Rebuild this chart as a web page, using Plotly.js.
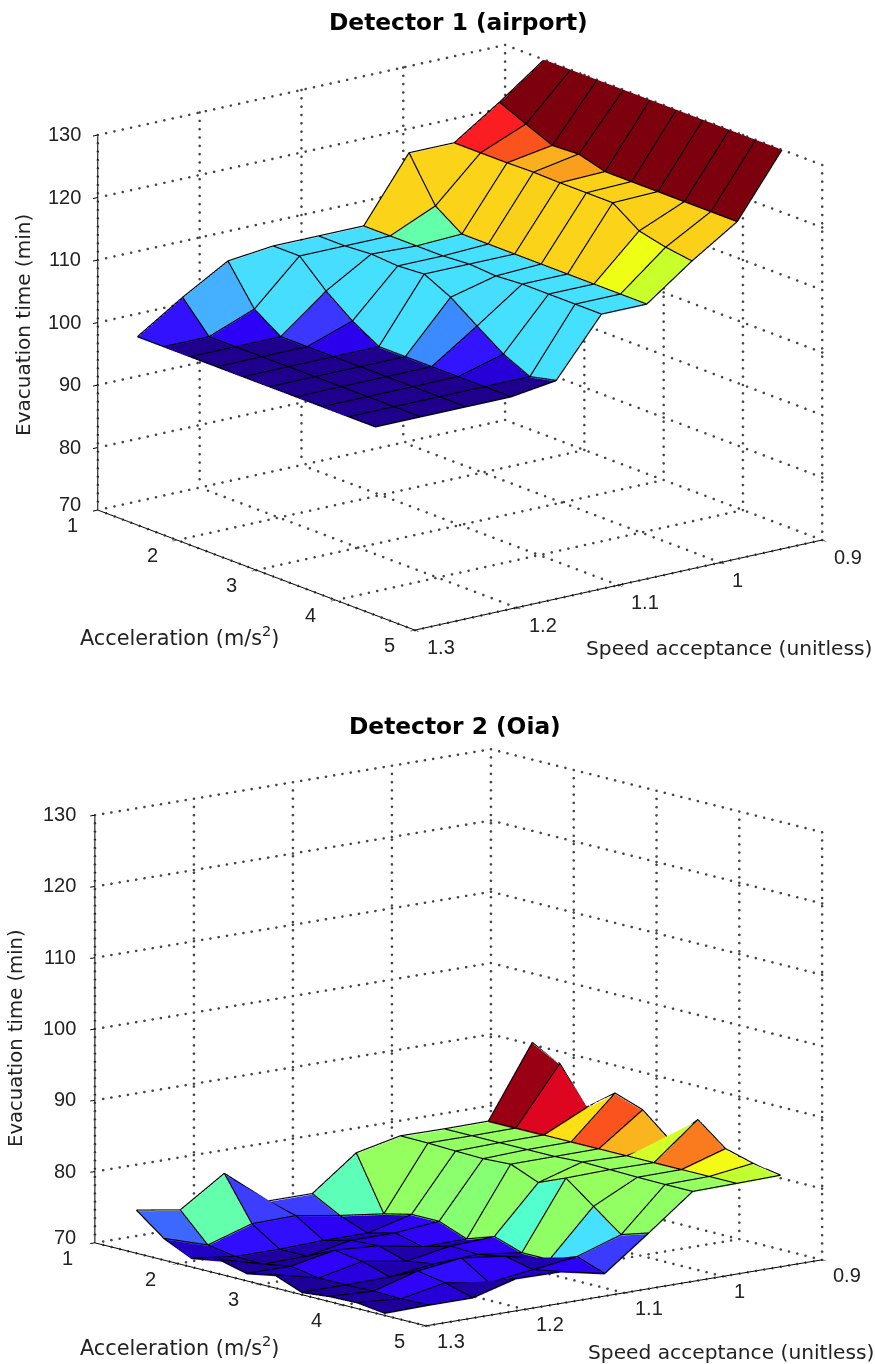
<!DOCTYPE html>
<html><head><meta charset="utf-8">
<script src="https://cdn.plot.ly/plotly-3.0.1.min.js"></script>
<style>html,body{margin:0;padding:0;background:#fff}#c{width:875px;height:1364px}</style>
</head><body><div id="c"></div>
<script>
const accel=[1.5,1.833,2.167,2.5,2.833,3.167,3.5,3.833,4.167,4.5];
const speed=[1.3,1.2556,1.2111,1.1667,1.1222,1.0778,1.0333,0.9889,0.9444,0.9];
const accelTicks=[1,2,3,4,5];
const speedTicks=[0.9,1,1.1,1.2,1.3];
const timeTicks=[70,80,90,100,110,120,130];
const speedLabels=['0.9','1','1.1','1.2','1.3'];
// rows follow speed, columns follow accel
const airport=[
[100,100,100,100,100,100,100,100,100,100],
[104.7,100,100,100,100,100,100,100,100,100],
[108.9,102.8,100,100,100,100,100,100,100,100],
[109.7,109.7,105.7,102.5,100,100,100,100,100,100],
[109.7,109.7,110,109.7,110,107.9,104.9,102,100,101],
[109.7,109.7,109.7,109.7,110,109.7,110,110,110,110],
[119.8,112.9,110,110,110,110,110,110,110,110],
[119.8,119.8,119.8,119.9,119.8,119.8,119.8,116.9,115.9,115.3],
[124.7,122.8,121,121.2,120,120,120,120,120,120],
[130,130,130,130,130,130,130,130,130,130]];
const oia=[
[75.9,72.9,71.1,71.9,70.9,71.7,70.2,70.6,70.7,70.2],
[74.9,70.95,70.3,70.2,70.9,70.2,70.2,70.3,70.2,70.3],
[79,72.9,70.3,70.3,72.1,71.5,70.3,72.1,71.4,70.3],
[74.1,73,70.5,71.5,71.7,70.5,71.1,72.9,70.4,72],
[74.1,72,70.5,71.5,70.5,71.6,71.4,72.1,71.2,71.9],
[78.8,71.2,72.1,72.1,70.6,71.9,70.6,70.6,72,70.6],
[80.15,80.1,79.95,79.85,80.05,78.45,80.05,77.05,74.05,75.25],
[80.1,80.1,80.1,80.1,80.1,80.3,80.2,80.1,80.05,80.05],
[80.15,80.15,80.15,80.15,80.15,80.15,80.15,80.15,80.15,80.15],
[90.17,88.17,83.07,85.97,84.6,81.27,85.17,82.07,80.97,80.27]];
const colorStops=[[0,30,0,140],[.04,32,0,190],[.067,38,0,215],[.09,45,0,245],[.163,50,20,255],[.19,60,55,255],[.27,60,145,255],[.30,70,180,255],[.32,70,220,255],[.335,70,225,255],[.39,75,255,220],[.43,100,255,170],[.48,145,255,100],[.52,190,255,50],[.565,240,255,20],[.62,255,225,20],[.667,250,208,25],[.70,250,175,30],[.72,250,125,30],[.765,250,78,30],[.823,250,30,35],[.874,215,0,30],[1,125,0,15]];
function shade(t){
  t=Math.max(0,Math.min(1,t));
  for(let k=1;k<colorStops.length;k++){
    const a=colorStops[k-1],b=colorStops[k];
    if(t<=b[0]){const f=(t-a[0])/(b[0]-a[0]);
      return 'rgb('+[1,2,3].map(n=>Math.round(a[n]+(b[n]-a[n])*f)).join(',')+')';}
  }
  return 'rgb(125,0,15)';
}
function surfaceTraces(Z,zlo,zhi,scene){
  const X=[],Y=[],V=[],I=[],J=[],K=[],F=[];
  const n=speed.length,m=accel.length,id=(r,c)=>r*m+c;
  for(let r=0;r<n;r++)for(let c=0;c<m;c++){X.push(accel[c]);Y.push(speed[r]);V.push(Z[r][c]);}
  for(let r=0;r<n-1;r++)for(let c=0;c<m-1;c++){
    const col=shade((Z[r+1][c]-zlo)/(zhi-zlo));
    I.push(id(r,c),id(r,c));J.push(id(r+1,c),id(r+1,c+1));K.push(id(r+1,c+1),id(r,c+1));F.push(col,col);
  }
  const mesh={type:'mesh3d',scene,x:X,y:Y,z:V,i:I,j:J,k:K,facecolor:F,flatshading:true,hoverinfo:'skip',showscale:false,
    lighting:{ambient:1,diffuse:0,specular:0,roughness:1,fresnel:0},lightposition:{x:0,y:0,z:1e5}};
  const lx=[],ly=[],lz=[],up=0.15;
  for(let r=0;r<n;r++){for(let c=0;c<m;c++){lx.push(accel[c]);ly.push(speed[r]);lz.push(Z[r][c]+up);}lx.push(null);ly.push(null);lz.push(null);}
  for(let c=0;c<m;c++){for(let r=0;r<n;r++){lx.push(accel[c]);ly.push(speed[r]);lz.push(Z[r][c]+up);}lx.push(null);ly.push(null);lz.push(null);}
  const edges={type:'scatter3d',mode:'lines',scene,x:lx,y:ly,z:lz,line:{color:'#000',width:2.3},hoverinfo:'skip',showlegend:false};
  return [mesh,edges];
}
function gridTrace(scene,nA,nS,nZ){
  const a0=1,a1=5,s0=1.3,s1=0.9,z0=70,z1=130,x=[],y=[],z=[];
  const seg=(p,q,count)=>{for(let k=1;k<=count;k++){const f=k/count;x.push(p[0]+(q[0]-p[0])*f);y.push(p[1]+(q[1]-p[1])*f);z.push(p[2]+(q[2]-p[2])*f);}};
  accelTicks.forEach(a=>{seg([a,s0,z0],[a,s1,z0],nS);seg([a,s1,z0],[a,s1,z1],nZ);});
  speedTicks.forEach(s=>{seg([a0,s,z0],[a1,s,z0],nA);seg([a0,s,z0],[a0,s,z1],nZ);});
  timeTicks.forEach(t=>{seg([a0,s0,t],[a0,s1,t],nS);seg([a0,s1,t],[a1,s1,t],nA);});
  return {type:'scatter3d',mode:'markers',scene,x,y,z,marker:{color:'#444',size:1.5,line:{width:0}},hoverinfo:'skip',showlegend:false};
}
const tickFont={family:'Liberation Sans, Arial, sans-serif',size:20,color:'#222'};
function sceneLayout(domainX,domainY,eye,aspect,aShift,sShift,zShift){
  const ax=(range,tickvals)=>({range,tickmode:'array',tickvals,ticktext:tickvals.map(()=>''),showgrid:false,zeroline:false,showline:true,linecolor:'#000',linewidth:2,ticks:'outside',ticklen:6,tickcolor:'#000',tickwidth:2,showticklabels:false,showbackground:false,showspikes:false,title:{text:''}});
  const ann=[];
  const t=(x,y,z,text,xshift,yshift,xanchor)=>ann.push({x,y,z,text,xshift,yshift,showarrow:false,font:tickFont,xanchor,yanchor:'middle'});
  accelTicks.forEach(a=>t(a,1.3,70,String(a),aShift[0],-aShift[1],'center'));
  speedTicks.forEach((s,i)=>t(5,s,70,speedLabels[i],sShift[0],-sShift[1],'left'));
  timeTicks.forEach(v=>t(1,1.3,v,String(v),zShift,v===70?6:1,'right'));
  return {domain:{x:domainX,y:domainY},aspectmode:'manual',aspectratio:aspect,
    camera:{eye,center:{x:0,y:0,z:0},up:{x:0,y:0,z:1},projection:{type:'orthographic'}},
    xaxis:ax([1,5],accelTicks),yaxis:ax([1.3,0.9],speedTicks),zaxis:ax([70,130],timeTicks),annotations:ann};
}
const W=875,H=1364;
const label=(px,py,text,size,extra)=>Object.assign({xref:'paper',yref:'paper',x:px/W,y:1-py/H,text,showarrow:false,xanchor:'center',yanchor:'middle',font:{family:'DejaVu Sans, sans-serif',size,color:'#222'}},extra||{});
const R=2;
const titleFont={family:'DejaVu Sans, sans-serif',size:23.3,color:'#000'};
const layout={width:W,height:H,margin:{l:0,r:0,t:0,b:0},paper_bgcolor:'#fff',showlegend:false,
  scene:sceneLayout([45/W,1],[1-675/H,1],{x:.760*R,y:-.581*R,z:.2893*R},{x:1.547,y:1.519,z:1.161},[-25,15],[10,17],-15),
  scene2:sceneLayout([42/W,1],[0,1-711/H],{x:.7587*R,y:-.6187*R,z:.2044*R},{x:1.605,y:1.565,z:1.338},[-27,15],[9,15],-17),
  annotations:[
    label(458,22,'<b>Detector 1 (airport)</b>',23.3,{font:titleFont}),
    label(455,725,'<b>Detector 2 (Oia)</b>',23.3,{font:titleFont}),
    label(179,636,'Acceleration (m/s<sup>2</sup>)',20.8),
    label(729,648,'Speed acceptance (unitless)',20.2),
    label(23,325,'Evacuation time (min)',20,{textangle:-90}),
    label(179,1346,'Acceleration (m/s<sup>2</sup>)',20.8),
    label(731,1352,'Speed acceptance (unitless)',20.2),
    label(15,1038,'Evacuation time (min)',19.6,{textangle:-90})
  ]};
const data=[gridTrace('scene',38,49,45),...surfaceTraces(airport,100,130,'scene'),gridTrace('scene2',40,48,52),...surfaceTraces(oia,70,91,'scene2')];
Plotly.newPlot('c',data,layout,{displayModeBar:false});
</script></body></html>
